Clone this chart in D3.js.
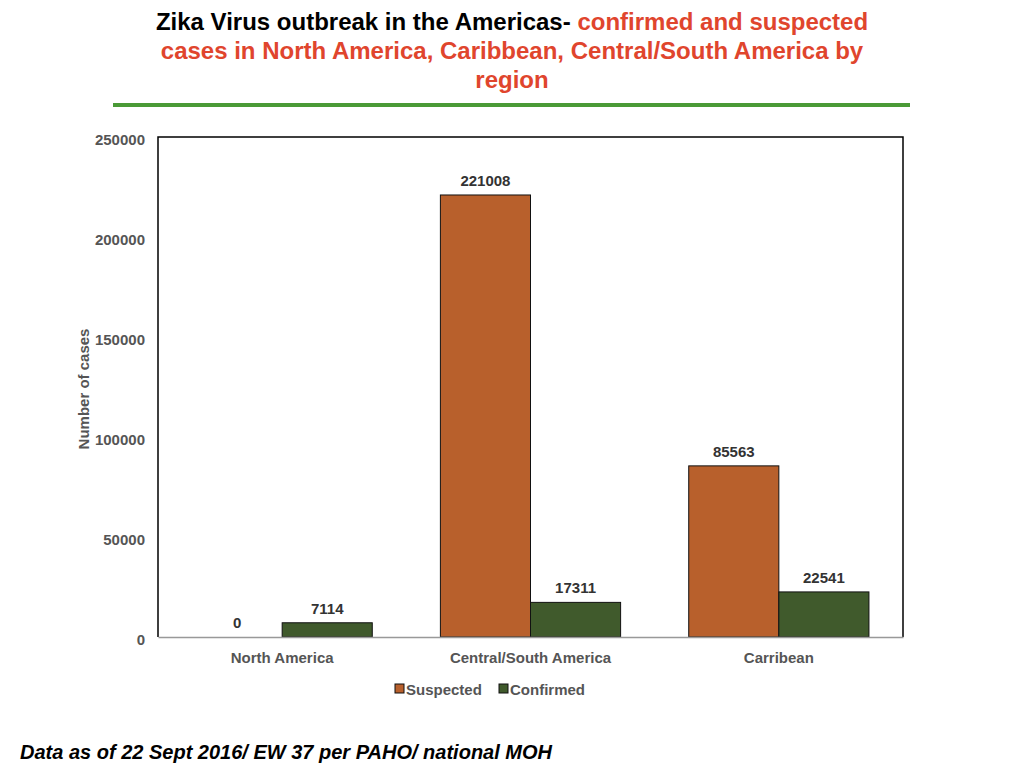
<!DOCTYPE html>
<html><head><meta charset="utf-8">
<script src="https://cdn.jsdelivr.net/npm/d3@7"></script>
<style>body{margin:0;background:#fff;} svg{display:block;font-family:"Liberation Sans",Arial,Helvetica,sans-serif;}</style>
</head><body>
<svg id="c" width="1024" height="768"></svg>
<script>
const categories = ["North America", "Central/South America", "Carribean"];
const seriesNames = ["Suspected", "Confirmed"];
const suspected = [0, 221008, 85563];
const confirmed = [7114, 17311, 22541];
const yTicks = [0, 50000, 100000, 150000, 200000, 250000];
const colors = ["#b8602c", "#405a2c"];

const svg = d3.select("#c");
const L = 158, R = 903, T = 137, B = 637;
const FS = 15;

// Title
const title = svg.append("text").attr("text-anchor", "middle").attr("font-weight", "bold").attr("font-size", 24);
const t1 = title.append("tspan").attr("x", 512).attr("y", 30);
t1.append("tspan").attr("fill", "#000").text("Zika Virus outbreak in the Americas- ");
t1.append("tspan").attr("fill", "#e0452d").text("confirmed and suspected");
title.append("tspan").attr("x", 512).attr("y", 59).attr("fill", "#e0452d").text("cases in North America, Caribbean, Central/South America by");
title.append("tspan").attr("x", 512).attr("y", 88).attr("fill", "#e0452d").text("region");
svg.append("line").attr("x1", 113).attr("x2", 910).attr("y1", 105).attr("y2", 105).attr("stroke", "#4a9a36").attr("stroke-width", 4);

const x0 = d3.scaleBand().domain(categories).range([L, R]).paddingInner(0).paddingOuter(0);
const x1 = d3.scaleBand().domain(seriesNames).range([0, x0.bandwidth()]).paddingInner(0).paddingOuter(0.378);
const y = d3.scaleLinear().domain([0, 250000]).range([B, T]);

// frame
svg.append("path").attr("d", `M${L},${B}V${T}H${R}V${B}`).attr("fill", "none").attr("stroke", "#000").attr("stroke-width", 1.5);

// y axis
const ya = svg.append("g").attr("transform", `translate(${L},0)`).call(d3.axisLeft(y).tickValues(yTicks).tickSize(0).tickPadding(13).tickFormat(d3.format("d")));
ya.select(".domain").remove();
ya.selectAll("text").attr("font-size", FS).attr("font-weight", "bold").attr("fill", "#555").attr("dy", "0.52em").attr("font-family", "Liberation Sans, Arial, sans-serif");

svg.append("text").attr("transform", `translate(89,${(T + B) / 2 + 2}) rotate(-90)`).attr("text-anchor", "middle")
  .attr("font-size", FS).attr("font-weight", "bold").attr("fill", "#555").text("Number of cases");

// bars
const data = categories.map((c, i) => ({ cat: c, vals: [suspected[i], confirmed[i]] }));
const g = svg.selectAll("g.grp").data(data).join("g").attr("class", "grp").attr("transform", d => `translate(${x0(d.cat)},0)`);
g.selectAll("rect").data(d => d.vals.map((v, j) => ({ v, s: seriesNames[j], j }))).join("rect")
  .attr("x", d => x1(d.s)).attr("width", x1.bandwidth())
  .attr("y", d => y(d.v)).attr("height", d => B - y(d.v))
  .attr("fill", d => colors[d.j]).attr("stroke", d => d.v > 0 ? "#111" : "none").attr("stroke-width", 1);
g.selectAll("text.val").data(d => d.vals.map((v, j) => ({ v, s: seriesNames[j] }))).join("text").attr("class", "val")
  .attr("x", d => x1(d.s) + x1.bandwidth() / 2).attr("y", d => y(d.v) - 9)
  .attr("text-anchor", "middle").attr("font-size", FS).attr("font-weight", "bold").attr("fill", "#333").text(d => d.v);

// x axis
const xa = svg.append("g").attr("transform", `translate(0,${B})`).call(d3.axisBottom(x0).tickSize(0).tickPadding(15));
xa.select(".domain").attr("stroke", "#999").attr("stroke-width", 1.5);
xa.selectAll("text").attr("font-size", FS).attr("font-weight", "bold").attr("fill", "#555").attr("font-family", "Liberation Sans, Arial, sans-serif");

// legend
const leg = svg.append("g").attr("transform", "translate(395,684)");
const items = [{ n: seriesNames[0], c: colors[0], x: 0 }, { n: seriesNames[1], c: colors[1], x: 104 }];
items.forEach(it => {
  leg.append("rect").attr("x", it.x).attr("y", 0).attr("width", 9).attr("height", 9).attr("fill", it.c).attr("stroke", "#111").attr("stroke-width", 1);
  leg.append("text").attr("x", it.x + 11).attr("y", 11).attr("font-size", FS).attr("font-weight", "bold").attr("fill", "#555").text(it.n);
});

// footer
svg.append("text").attr("x", 20).attr("y", 759).attr("font-size", 20).attr("font-weight", "bold").attr("font-style", "italic").attr("fill", "#000")
  .text("Data as of 22 Sept 2016/ EW 37 per PAHO/ national MOH");
</script>
</body></html>
